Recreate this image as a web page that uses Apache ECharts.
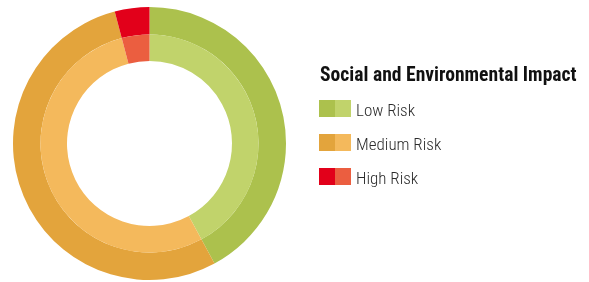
<!DOCTYPE html>
<html lang="en">
<head>
    <meta charset="UTF-8">
    <title>Social and Environmental Impact</title>
    <script src="https://cdn.jsdelivr.net/npm/echarts@6.0.0/dist/echarts.min.js"></script>
    <style>
        html, body { margin: 0; padding: 0; background: #fff; }
        #chart { width: 589px; height: 282px; }
    </style>
</head>
<body>
    <div id="chart"></div>
    <script>
    // risk categories and share of each (percent)
    const categories = ['Low Risk', 'Medium Risk', 'High Risk'];
    const shares = [42.1, 53.8, 4.1];
    const darkColors = ['#acc14d', '#e3a43c', '#e2001a'];
    const lightColors = ['#c1d36b', '#f4b95c', '#eb5e40'];

    const font = '"Roboto Condensed", Roboto, sans-serif';

    function pieData(colors) {
        return categories.map((name, i) => ({
            name: name,
            value: shares[i],
            itemStyle: { color: colors[i] }
        }));
    }

    function legendData(colors) {
        return categories.map((name, i) => ({ name: name, itemStyle: { color: colors[i] } }));
    }

    // two legends side by side give the two-tone swatch; the rich padding
    // sits the label a little below the swatch centre, like the original
    function makeLegend(left, colors, textColor) {
        return {
            orient: 'vertical',
            left: left,
            top: 97,
            padding: 0,
            itemWidth: 16,
            itemHeight: 17,
            itemGap: 11,
            itemTextGap: 8,
            icon: 'rect',
            selectedMode: false,
            data: legendData(colors),
            formatter: '{t|{name}}',
            textStyle: {
                rich: {
                    t: {
                        fontFamily: font, fontSize: 17, fontWeight: 300, lineHeight: 17,
                        padding: [6, 0, 0, 0], color: textColor
                    }
                }
            }
        };
    }

    const chart = echarts.init(document.getElementById('chart'));
    chart.setOption({
        animation: false,
        title: {
            text: 'Social and Environmental Impact',
            left: 320,
            top: 66,
            padding: 0,
            textStyle: { fontFamily: font, fontSize: 19.6, fontWeight: 'bold', color: '#111' }
        },
        legend: [
            makeLegend(319, darkColors, 'rgba(0,0,0,0)'),
            makeLegend(335, lightColors, '#2b2b2b')
        ],
        series: [
            {
                name: 'outer',
                type: 'pie',
                center: [149.5, 143.5],
                radius: [109, 136.5],
                startAngle: 90,
                clockwise: true,
                label: { show: false },
                labelLine: { show: false },
                emphasis: { scale: false },
                itemStyle: { borderWidth: 0 },
                data: pieData(darkColors)
            },
            {
                name: 'inner',
                type: 'pie',
                center: [149.5, 143.5],
                radius: [82.5, 109],
                startAngle: 90,
                clockwise: true,
                label: { show: false },
                labelLine: { show: false },
                emphasis: { scale: false },
                itemStyle: { borderWidth: 0 },
                data: pieData(lightColors)
            }
        ]
    });
    </script>
</body>
</html>
